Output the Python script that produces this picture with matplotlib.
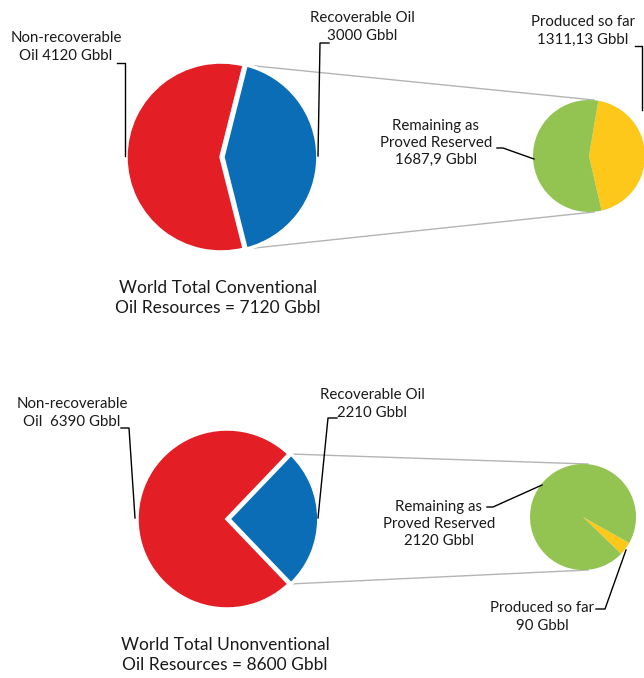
import numpy as np
import matplotlib
matplotlib.use('Agg')
import matplotlib.pyplot as plt

# top chart: conventional oil (Gbbl)
conv_main = [3000, 4120]          # recoverable, non-recoverable
conv_split = [1311.13, 1687.9]    # produced so far, remaining as proved reserved
conv_total = 7120

# bottom chart: unconventional oil (Gbbl)
unconv_main = [2210, 6390]
unconv_split = [90, 2120]
unconv_total = 8600

RED = '#e31e24'
BLUE = '#0b6db5'
GREEN = '#93c452'
YELLOW = '#fdc81a'

W, H = 644, 678
plt.rcParams['font.family'] = ['Lato', 'DejaVu Sans']

fig = plt.figure(figsize=(W / 100, H / 100), dpi=100)
ax = fig.add_axes([0, 0, 1, 1])


def Y(y):
    # image pixel rows -> axis units (y up)
    return H - y


def pie_pair(main, split, c_main, r_main, c_small, r_small, small_start):
    ang = 360 * main[0] / sum(main)
    ax.pie(main, colors=[BLUE, RED], startangle=-ang / 2, counterclock=True,
           center=(c_main[0], Y(c_main[1])), radius=r_main, explode=[0.02 * r_main, 0],
           wedgeprops=dict(edgecolor='white', linewidth=2.5))
    ax.pie(split, colors=[YELLOW, GREEN], startangle=small_start, counterclock=True,
           center=(c_small[0], Y(c_small[1])), radius=r_small,
           wedgeprops=dict(edgecolor='none'))
    # connector lines from the blue slice to the secondary pie
    a = np.radians(ang / 2)
    x0 = c_main[0] + r_main * np.cos(a)
    for s in (1, -1):
        y0 = Y(c_main[1]) + s * r_main * np.sin(a)
        ax.plot([x0, c_small[0] + 5], [y0, Y(c_small[1]) + s * r_small],
                color='#b4b4b4', lw=1, zorder=0)


def label(txt, x, y, pts):
    ax.text(x, Y(y), txt, ha='center', va='center', fontsize=10.8,
            color='#1a1a1a', linespacing=1.3)
    ax.plot([p[0] for p in pts], [Y(p[1]) for p in pts], color='black', lw=1)


pie_pair(conv_main, conv_split, (221, 157), 95, (589, 156), 56, -77)
pie_pair(unconv_main, unconv_split, (227, 519), 90, (583, 517), 53, -44)

# top labels
label('Non-recoverable\nOil %d Gbbl' % conv_main[1], 66, 47, [(117, 63), (125, 63), (125, 156)])
label('Recoverable Oil\n%d Gbbl' % conv_main[0], 362, 27, [(329, 43), (320, 43), (318, 156)])
label('Produced so far\n1311,13 Gbbl', 583, 31, [(635, 46), (642, 46), (642, 110)])
label('Remaining as\nProved Reserved\n1687,9 Gbbl', 436, 143, [(497, 148), (503, 148), (534, 159)])
ax.text(218, Y(298), 'World Total Conventional\nOil Resources = %d Gbbl' % conv_total,
        ha='center', va='center', fontsize=12.5, color='#1a1a1a', linespacing=1.3)

# bottom labels
label('Non-recoverable\nOil  %d Gbbl' % unconv_main[1], 72, 413, [(121, 428), (129, 428), (135, 518)])
label('Recoverable Oil\n%d Gbbl' % unconv_main[0], 372, 404, [(337, 418), (328, 418), (318, 518)])
label('Remaining as\nProved Reserved\n2120 Gbbl', 439, 524, [(487, 507), (493, 507), (542, 485)])
label('Produced so far\n90 Gbbl', 542, 617, [(596, 609), (605, 609), (626, 550)])
ax.text(225, Y(655), 'World Total Unonventional\nOil Resources = %d Gbbl' % unconv_total,
        ha='center', va='center', fontsize=12.5, color='#1a1a1a', linespacing=1.3)

ax.set_aspect('auto')
ax.set_xlim(0, W)
ax.set_ylim(0, H)
ax.axis('off')

fig.savefig('out.png', dpi=100)
